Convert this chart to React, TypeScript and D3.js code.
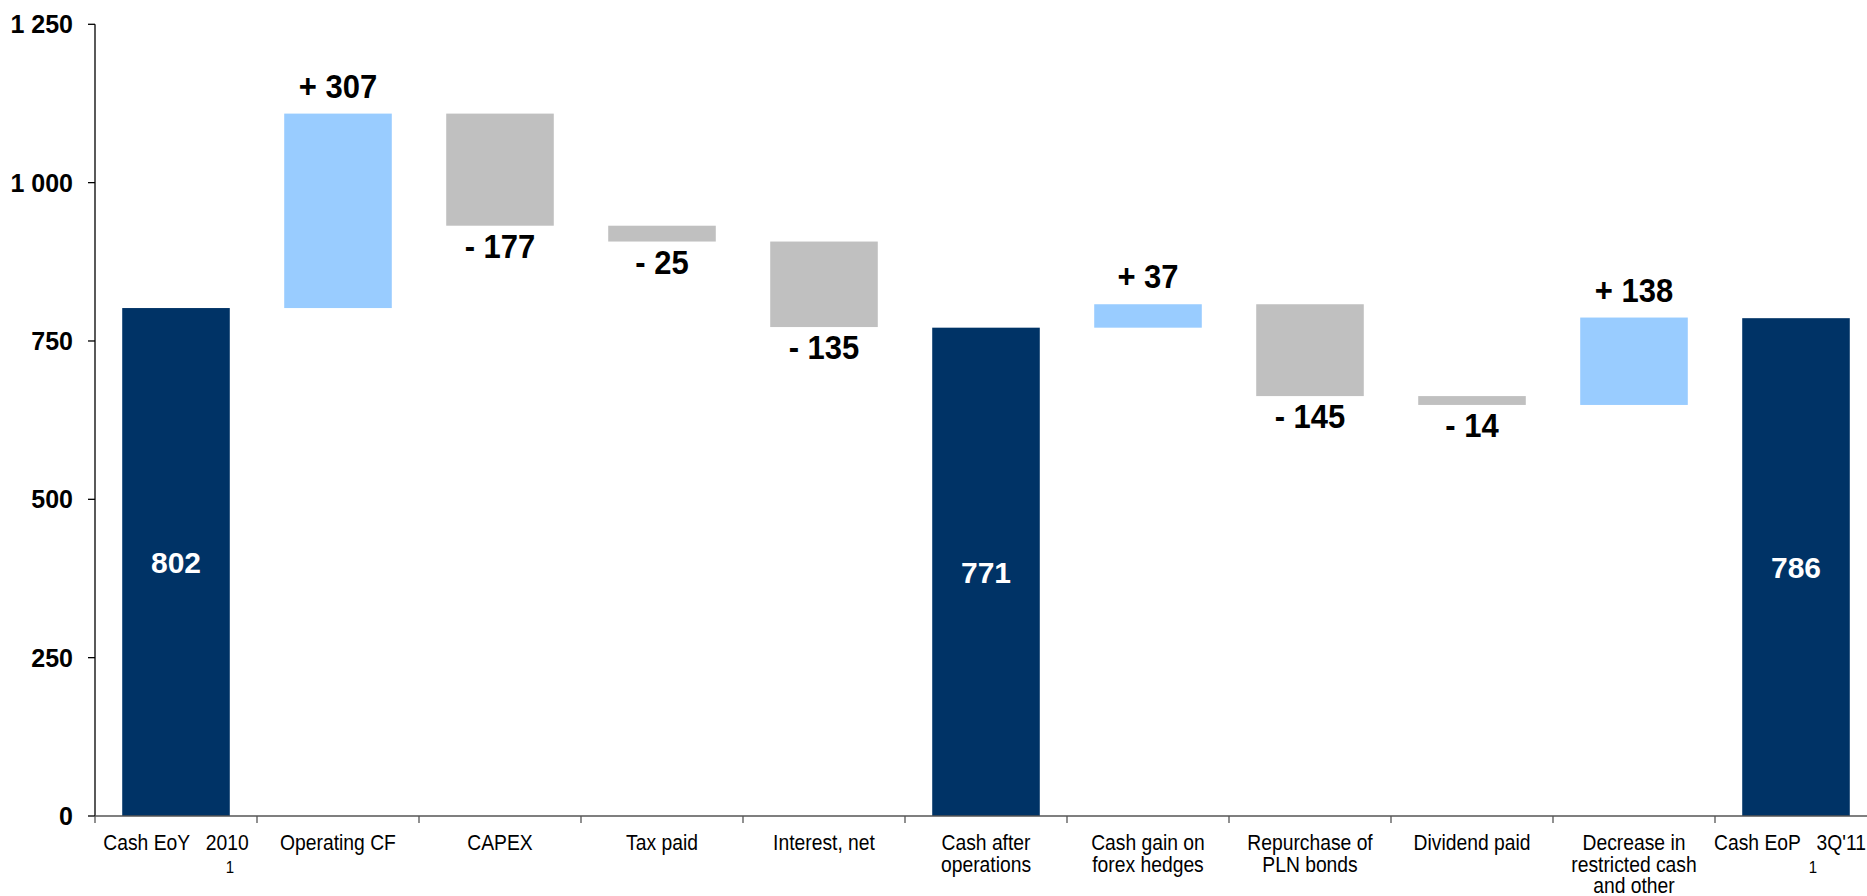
import React, { useEffect } from "react";
import * as d3 from "d3";

const categoryLines: string[][] = [
  ["Cash EoY   2010"],
  ["Operating CF"],
  ["CAPEX"],
  ["Tax paid"],
  ["Interest, net"],
  ["Cash after", "operations"],
  ["Cash gain on", "forex hedges"],
  ["Repurchase of", "PLN bonds"],
  ["Dividend paid"],
  ["Decrease in", "restricted cash", "and other"],
  ["Cash EoP   3Q'11"],
];
const footnotes: string[] = ["1", "", "", "", "", "", "", "", "", "", "1"];
const values: number[] = [802, 307, -177, -25, -135, 771, 37, -145, -14, 138, 786];
const kinds: string[] = ["total", "delta", "delta", "delta", "delta", "total", "delta", "delta", "delta", "delta", "total"];
const yTicks: number[] = [0, 250, 500, 750, 1000, 1250];
const yTickLabels: string[] = ["0", "250", "500", "750", "1 000", "1 250"];

const W = 1867;
const H = 896;
const NAVY = "#003366";
const LIGHT = "#99CCFF";
const GRAY = "#C0C0C0";
const FONT = "'Liberation Sans', Arial, sans-serif";

export default function App() {
  useEffect(() => {
    document.body.style.margin = "0";
    document.body.style.overflow = "hidden";
  }, []);

  const keys = categoryLines.map((_, i) => String(i));
  const x = d3
    .scaleBand<string>()
    .domain(keys)
    .range([95, 95 + 162 * keys.length])
    .paddingInner(0.336)
    .paddingOuter(0.168);
  const y = d3.scaleLinear().domain([0, 1250]).range([816, 24.3]);

  let running = 0;
  const bars = values.map((v, i) => {
    let lo: number, hi: number;
    if (kinds[i] === "total") {
      lo = 0;
      hi = v;
      running = v;
    } else {
      const start = running;
      running = running + v;
      lo = Math.min(start, running);
      hi = Math.max(start, running);
    }
    const color = kinds[i] === "total" ? NAVY : v >= 0 ? LIGHT : GRAY;
    return { i, v, lo, hi, color, kind: kinds[i] };
  });

  const axisLeft = 95;
  const step = x.step();
  const boundaries = d3.range(keys.length + 1).map((k) => axisLeft + k * step);

  return (
    <svg
      width={W}
      height={H}
      style={{ position: "absolute", left: 0, top: 0, display: "block", background: "#fff" }}
      fontFamily={FONT}
    >
      {/* bars */}
      {bars.map((b) => (
        <rect
          key={"b" + b.i}
          x={x(String(b.i))}
          y={y(b.hi)}
          width={x.bandwidth()}
          height={y(b.lo) - y(b.hi)}
          fill={b.color}
        />
      ))}

      {/* y axis */}
      <line x1={axisLeft} x2={axisLeft} y1={y(0)} y2={y(1250)} stroke="#000" strokeWidth={1.3} />
      {yTicks.map((t, i) => (
        <g key={"yt" + i} transform={`translate(0,${y(t)})`}>
          <line x1={axisLeft - 7} x2={axisLeft} y1={0} y2={0} stroke="#000" strokeWidth={1.3} />
          <text x={73} y={9} textAnchor="end" fontSize={25} fontWeight="bold" fill="#000">
            {yTickLabels[i]}
          </text>
        </g>
      ))}

      {/* x axis */}
      <line x1={axisLeft} x2={W} y1={y(0)} y2={y(0)} stroke="#555" strokeWidth={1.3} />
      {boundaries.map((bx, i) => (
        <line key={"xt" + i} x1={bx} x2={bx} y1={y(0)} y2={y(0) + 7} stroke="#555" strokeWidth={1.3} />
      ))}

      {/* category labels */}
      {categoryLines.map((lines, i) => {
        const cx = (x(String(i)) as number) + x.bandwidth() / 2;
        const isLast = i === categoryLines.length - 1;
        const lx = isLast ? Math.min(cx, W - 77) : cx;
        return (
          <g key={"cl" + i}>
            {lines.map((ln, j) => (
              <g key={j} transform={`translate(${lx},${850 + j * 21.5}) scale(0.885,1)`}>
                <text x={0} y={0} textAnchor="middle" fontSize={21.8} fill="#000" style={{ whiteSpace: "pre" }}>
                  {ln}
                </text>
              </g>
            ))}
            {footnotes[i] ? (
              <g transform={`translate(${lx + (isLast ? 23 : 54)},${873}) scale(0.885,1)`}>
                <text x={0} y={0} textAnchor="middle" fontSize={17} fill="#000">
                  {footnotes[i]}
                </text>
              </g>
            ) : null}
          </g>
        );
      })}

      {/* value labels */}
      {bars.map((b) => {
        const cx = (x(String(b.i)) as number) + x.bandwidth() / 2;
        if (b.kind === "total") {
          return (
            <text
              key={"vl" + b.i}
              x={cx}
              y={y(b.hi / 2) + 11}
              textAnchor="middle"
              fontSize={30}
              fontWeight="bold"
              fill="#fff"
            >
              {String(b.v)}
            </text>
          );
        }
        const txt = (b.v >= 0 ? "+ " : "- ") + Math.abs(b.v);
        const ty = b.v >= 0 ? y(b.hi) - 16 : y(b.lo) + 32;
        return (
          <g key={"vl" + b.i} transform={`translate(${cx},${ty}) scale(1,1.1)`}>
            <text x={0} y={0} textAnchor="middle" fontSize={31} fontWeight="bold" fill="#000">
              {txt}
            </text>
          </g>
        );
      })}
    </svg>
  );
}
